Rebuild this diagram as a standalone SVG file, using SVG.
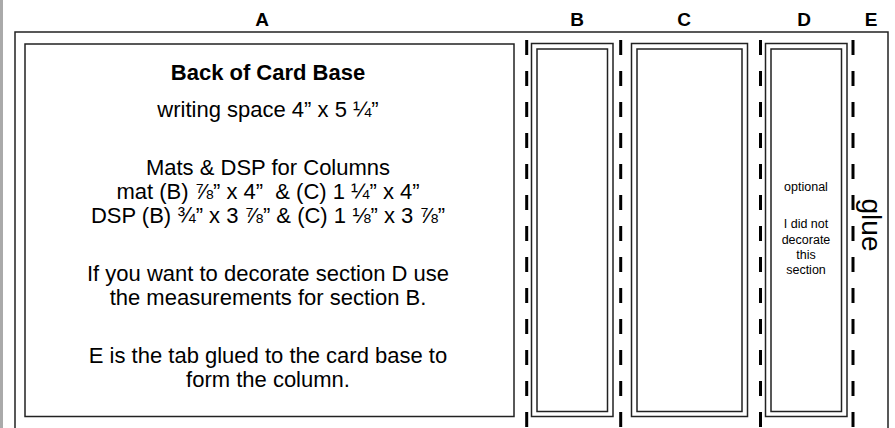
<svg xmlns="http://www.w3.org/2000/svg" width="895" height="428" viewBox="0 0 895 428">
<style>
.ln{fill:none;stroke:#222;stroke-width:1.5}
.dash{fill:none;stroke:#000;stroke-width:3;stroke-dasharray:15 16}
.lbl{font-family:"Liberation Sans",Arial,sans-serif;font-weight:bold;font-size:19px;text-anchor:middle;fill:#000}
.body{font-family:"Liberation Sans",Arial,sans-serif;font-size:22px;text-anchor:middle;fill:#000}
.small{font-family:"Liberation Sans",Arial,sans-serif;font-size:12.5px;text-anchor:middle;fill:#000}
</style>
<rect x="0" y="0" width="895" height="428" fill="#fff"/>
<rect x="0" y="0" width="3" height="428" fill="#aaa"/>
<g id="labels">
<text class="lbl" x="262" y="26">A</text>
<text class="lbl" x="577" y="26">B</text>
<text class="lbl" x="684" y="26">C</text>
<text class="lbl" x="804" y="26">D</text>
<text class="lbl" x="871" y="26">E</text>
</g>
<g id="card">
<path class="ln" d="M15,428 V32 H888 V428"/>
</g>
<g id="sectionA">
<rect class="ln" x="25" y="44" width="489" height="372.5"/>
<text class="body" x="268" y="80" font-weight="bold" font-size="21">Back of Card Base</text>
<text class="body" x="268" y="117">writing space 4” x 5 ¼”</text>
<text class="body" x="268" y="175">Mats &amp; DSP for Columns</text>
<text class="body" x="268" y="199" xml:space="preserve">mat (B) ⅞” x 4”  &amp; (C) 1 ¼” x 4”</text>
<text class="body" x="268" y="223">DSP (B) ¾” x 3 ⅞” &amp; (C) 1 ⅛” x 3 ⅞”</text>
<text class="body" x="268" y="281">If you want to decorate section D use</text>
<text class="body" x="268" y="305">the measurements for section B.</text>
<text class="body" x="268" y="363">E is the tab glued to the card base to</text>
<text class="body" x="268" y="387">form the column.</text>
</g>
<g id="sectionB">
<rect class="ln" x="531.5" y="43.5" width="81.5" height="373"/>
<rect class="ln" x="537" y="49" width="70.5" height="362.5"/>
</g>
<g id="sectionC">
<rect class="ln" x="631.5" y="43.5" width="116" height="373"/>
<rect class="ln" x="637" y="49" width="105" height="362.5"/>
</g>
<g id="sectionD">
<rect class="ln" x="765.5" y="43.5" width="81.5" height="373"/>
<rect class="ln" x="771" y="49" width="70.5" height="362.5"/>
<text class="small" x="806" y="191">optional</text>
<text class="small" x="806" y="228">I did not</text>
<text class="small" x="806" y="244">decorate</text>
<text class="small" x="806" y="259">this</text>
<text class="small" x="806" y="274">section</text>
</g>
<g id="sectionE">
<text font-family="Liberation Sans,Arial,sans-serif" font-size="28" text-anchor="middle" transform="translate(862,225) rotate(90)">glue</text>
</g>
<g id="folds">
<line class="dash" x1="526.7" y1="40" x2="526.7" y2="428"/>
<line class="dash" x1="620.7" y1="40" x2="620.7" y2="428"/>
<line class="dash" x1="760.5" y1="40" x2="760.5" y2="428"/>
<line class="dash" x1="853" y1="40" x2="853" y2="428"/>
</g>
</svg>
